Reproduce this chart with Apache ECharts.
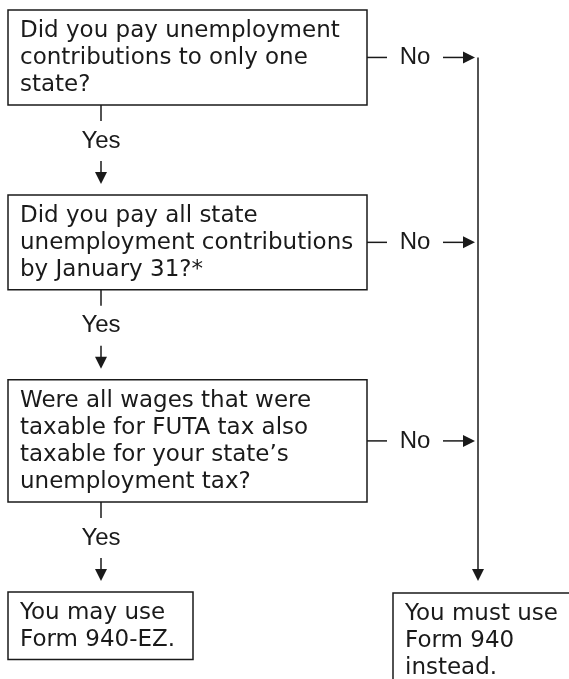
<!DOCTYPE html>
<html>
<head>
<meta charset="utf-8">
<script src="https://cdn.jsdelivr.net/npm/echarts@6/dist/echarts.min.js"></script>
<style>html,body{margin:0;padding:0;background:#fff}#c{width:569px;height:679px}</style>
</head>
<body>
<div id="c"></div>
<script>
// ---- content ----
const questions = [
  "Did you pay unemployment\ncontributions to only one\nstate?",
  "Did you pay all state\nunemployment contributions\nby January 31?*",
  "Were all wages that were\ntaxable for FUTA tax also\ntaxable for your state\u2019s\nunemployment tax?"
];
const outcomes = [
  "You may use\nForm 940-EZ.",
  "You must use\nForm 940\ninstead."
];
const yesLabel = "Yes";
const noLabel = "No";

// ---- layout (pixel units on hidden axes) ----
const W = 569, H = 679;
const LAY = {
  boxLeft: 8, boxRight: 367, firstTop: 10, lineH: 27.3, pad: 13, gap: 90,
  textX: 20, textOff: 21.5, textLineH: 27,
  yesX: 101,
  noLineEnd: 387, noTextX: 415, noArrowStart: 443, noArrowEnd: 475, railX: 478,
  out1Right: 193, out2Left: 393, out2Right: 600, outBottomExtra: 80
};
const BOX_FONT = '23px "DejaVu Sans"';
const LINK_FONT = '24px "Liberation Sans", Arial, sans-serif';
const INK = '#1a1a1a';

// build element list
const elements = [];
let curTop = LAY.firstTop, lastBottom = 0, firstNoY = null;
questions.forEach((q, i) => {
  const n = q.split('\n').length;
  const bottom = curTop + LAY.pad + LAY.lineH * n;
  const midY = (curTop + bottom) / 2;
  if (firstNoY === null) firstNoY = midY;
  elements.push({kind: 'box', x0: LAY.boxLeft, y0: curTop, x1: LAY.boxRight, y1: bottom, text: q});
  // Yes branch
  elements.push({kind: 'line', pts: [[LAY.yesX, bottom], [LAY.yesX, bottom + 16]]});
  elements.push({kind: 'label', x: LAY.yesX, y: bottom + 36, text: yesLabel});
  elements.push({kind: 'arrowDown', x: LAY.yesX, y0: bottom + 56, y1: bottom + 79});
  // No branch
  elements.push({kind: 'line', pts: [[LAY.boxRight, midY], [LAY.noLineEnd, midY]]});
  elements.push({kind: 'label', x: LAY.noTextX, y: midY, text: noLabel});
  elements.push({kind: 'arrowRight', y: midY, x0: LAY.noArrowStart, x1: LAY.noArrowEnd});
  lastBottom = bottom;
  curTop = bottom + LAY.gap;
});
const outTop = lastBottom + 90;
const apex = lastBottom + 79;
elements.push({kind: 'arrowDown', x: LAY.railX, y0: firstNoY, y1: apex});
elements.push({kind: 'box', x0: LAY.boxLeft, y0: outTop, x1: LAY.out1Right, y1: outTop + LAY.pad + LAY.lineH * 2, text: outcomes[0]});
elements.push({kind: 'box', x0: LAY.out2Left, y0: outTop + 1, x1: LAY.out2Right, y1: H + LAY.outBottomExtra, text: outcomes[1]});

function renderItem(params, api) {
  const e = elements[params.dataIndex];
  const c = (x, y) => api.coord([x, y]);
  const lineStyle = {stroke: INK, lineWidth: 1.5, fill: null};
  if (e.kind === 'box') {
    const p0 = c(e.x0, e.y0), p1 = c(e.x1, e.y1);
    return {type: 'group', children: [
      {type: 'rect', shape: {x: p0[0], y: p0[1], width: p1[0] - p0[0], height: p1[1] - p0[1]}, style: {stroke: INK, lineWidth: 1.5, fill: '#fff'}},
      {type: 'text', style: {text: e.text, x: p0[0] + (LAY.textX - LAY.boxLeft), y: p0[1] + LAY.textOff - LAY.textLineH / 2, font: BOX_FONT, lineHeight: LAY.textLineH, fill: INK, verticalAlign: 'top', align: 'left'}}
    ]};
  }
  if (e.kind === 'line') {
    return {type: 'polyline', shape: {points: e.pts.map(p => c(p[0], p[1]))}, style: lineStyle};
  }
  if (e.kind === 'label') {
    const p = c(e.x, e.y);
    return {type: 'text', style: {text: e.text, x: p[0], y: p[1], font: LINK_FONT, fill: INK, align: 'center', verticalAlign: 'middle'}};
  }
  if (e.kind === 'arrowDown') {
    const a = c(e.x, e.y0), b = c(e.x, e.y1);
    return {type: 'group', children: [
      {type: 'line', shape: {x1: a[0], y1: a[1], x2: b[0], y2: b[1] - 8}, style: lineStyle},
      {type: 'polygon', shape: {points: [[b[0] - 6, b[1] - 12], [b[0] + 6, b[1] - 12], [b[0], b[1]]]}, style: {fill: INK}}
    ]};
  }
  if (e.kind === 'arrowRight') {
    const a = c(e.x0, e.y), b = c(e.x1, e.y);
    return {type: 'group', children: [
      {type: 'line', shape: {x1: a[0], y1: a[1], x2: b[0] - 8, y2: b[1]}, style: lineStyle},
      {type: 'polygon', shape: {points: [[b[0] - 12, b[1] - 6], [b[0] - 12, b[1] + 6], [b[0], b[1]]]}, style: {fill: INK}}
    ]};
  }
  return null;
}

const chart = echarts.init(document.getElementById('c'), null, {renderer: 'canvas'});
chart.setOption({
  animation: false,
  backgroundColor: '#fff',
  grid: {left: 0, right: 0, top: 0, bottom: 0, containLabel: false},
  xAxis: {type: 'value', min: 0, max: W, show: false},
  yAxis: {type: 'value', min: 0, max: H, inverse: true, show: false},
  series: [{
    type: 'custom',
    coordinateSystem: 'cartesian2d',
    clip: false,
    silent: true,
    renderItem: renderItem,
    data: elements.map((e, i) => [e.x0 != null ? e.x0 : (e.x != null ? e.x : 0), e.y0 != null ? e.y0 : (e.y != null ? e.y : 0)])
  }]
});
</script>
</body>
</html>
